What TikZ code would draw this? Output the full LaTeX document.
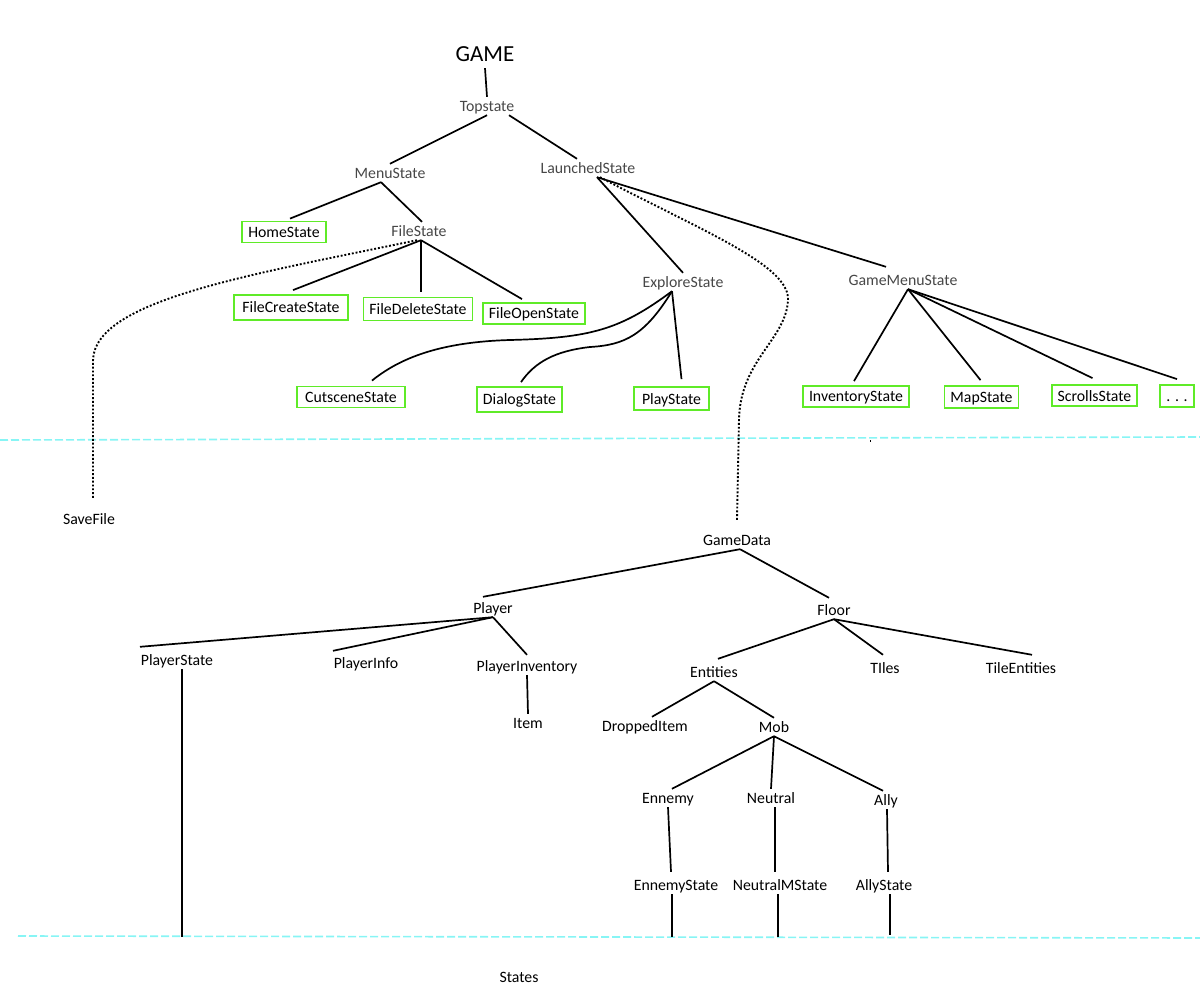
\documentclass[tikz,border=0pt]{standalone}
\usepackage{fontspec}
\setmainfont{Carlito}
\definecolor{boxgreen}{RGB}{95,235,40}
\definecolor{sepcyan}{RGB}{135,245,245}
\begin{document}
\begin{tikzpicture}[x=1pt,y=-1pt,
    lbl/.style={font=\fontsize{15.8}{18}\selectfont, text height=13pt, text depth=2pt, inner sep=1.5pt},
    lite/.style={lbl, text=black!72},
    statebox/.style={lbl, draw=boxgreen, line width=1.8pt, inner xsep=6pt, inner ysep=2.5pt, minimum height=21pt},
    edgeline/.style={line width=1.7pt},
    dotline/.style={line width=1.9pt, dash pattern=on 1.9pt off 1.9pt},
    sepline/.style={sepcyan, line width=1.6pt, dash pattern=on 8pt off 3pt}]
    \useasboundingbox (0,0) rectangle (1200,1000);

    % separators
    \draw[sepline] (0,440)--(1200,437);
    \draw[sepline] (18,936)--(1200,938);
    \fill (869.5,440) rectangle (871,442);

    % states part
    \node[lbl, font=\fontsize{23}{26}\selectfont, text height=15pt, text depth=0pt] (game) at (485,54) {GAME};
    \node[lite] (top) at (487,106) {Topstate};
    \node[lite] (menu) at (390,173) {MenuState};
    \node[lite] (launched) at (588,168) {LaunchedState};
    \node[statebox, minimum width=82pt] (home) at (284,232) {HomeState};
    \node[lite] (file) at (419,231) {FileState};
    \node[statebox, minimum width=114pt, minimum height=25pt] (fcreate) at (291,307.5) {FileCreateState};
    \node[statebox, minimum width=106pt, minimum height=23pt] (fdelete) at (418,309) {FileDeleteState};
    \node[statebox, minimum width=95pt] (fopen) at (534,313.5) {FileOpenState};
    \node[lite] (explore) at (683,282) {ExploreState};
    \node[lite] (gmenu) at (903,280) {GameMenuState};
    \node[statebox, minimum width=108pt] (cut) at (351,397) {CutsceneState};
    \node[statebox, minimum width=85pt, minimum height=25pt] (dialog) at (519.5,399.5) {DialogState};
    \node[statebox, minimum width=75pt, minimum height=23pt] (play) at (671.5,398.5) {PlayState};
    \node[statebox, minimum width=104pt] (inv) at (856,396.5) {InventoryState};
    \node[statebox, minimum width=69pt, minimum height=22pt] (map) at (981.5,397) {MapState};
    \node[statebox, minimum width=83pt] (scrolls) at (1094.5,395.5) {ScrollsState};
    \node[statebox, minimum width=32pt, minimum height=22pt] (more) at (1177,396) {. . .};

    \draw[edgeline] ([yshift=-5pt]game.south)--(top.north);
    \draw[edgeline] (top.south)--(menu.north);
    \draw[edgeline] ([xshift=22pt]top.south)--([xshift=-11pt]launched.north);
    \draw[edgeline] ([xshift=-9pt]menu.south)--([xshift=6pt,yshift=2pt]home.north);
    \draw[edgeline] ([xshift=-9pt]menu.south)--([xshift=3pt]file.north);
    \draw[edgeline] ([xshift=2pt]file.south)--([xshift=2pt,yshift=4pt]fcreate.north);
    \draw[edgeline] ([xshift=2pt]file.south)--([xshift=3pt,yshift=5pt]fdelete.north);
    \draw[edgeline] ([xshift=2pt]file.south)--([xshift=-12pt,yshift=3pt]fopen.north);
    \draw[edgeline] ([xshift=9pt]launched.south)--(explore.north);
    \draw[edgeline] ([xshift=9pt]launched.south)--([xshift=-17pt,yshift=4pt]gmenu.north);
    \draw[edgeline] ([xshift=-11pt]explore.south) .. controls (620,330) and (590,338) .. (510,340)
        .. controls (440,342) and (400,358) .. ([xshift=21pt,yshift=5pt]cut.north);
    \draw[edgeline] ([xshift=-11pt]explore.south) .. controls (645,335) and (625,345) .. (590,347)
        .. controls (555,351) and (535,362) .. ([xshift=1.5pt,yshift=4pt]dialog.north);
    \draw[edgeline] ([xshift=-11pt]explore.south)--([xshift=10pt,yshift=7pt]play.north);
    \draw[edgeline] ([xshift=5pt]gmenu.south)--([xshift=-2pt,yshift=4pt]inv.north);
    \draw[edgeline] ([xshift=5pt]gmenu.south)--([xshift=-1pt,yshift=5pt]map.north);
    \draw[edgeline] ([xshift=5pt]gmenu.south)--([xshift=-2pt,yshift=6pt]scrolls.north);
    \draw[edgeline] ([xshift=5pt]gmenu.south)--([yshift=5pt]more.north);

    % data part
    \node[lbl] (savefile) at (89,519) {SaveFile};
    \node[lbl] (gamedata) at (737,540) {GameData};
    \node[lbl] (player) at (493,608) {Player};
    \node[lbl] (floor) at (834,610) {Floor};
    \node[lbl] (pstate) at (177,660) {PlayerState};
    \node[lbl] (pinfo) at (366,663) {PlayerInfo};
    \node[lbl] (pinv) at (527,666) {PlayerInventory};
    \node[lbl] (item) at (528,723) {Item};
    \node[lbl] (ent) at (714,672) {Entities};
    \node[lbl] (tiles) at (885,668) {TIles};
    \node[lbl] (tent) at (1021,668) {TileEntities};
    \node[lbl] (drop) at (645,726) {DroppedItem};
    \node[lbl] (mob) at (774,727) {Mob};
    \node[lbl] (enn) at (668,798) {Ennemy};
    \node[lbl] (neu) at (771,798) {Neutral};
    \node[lbl] (ally) at (886,800) {Ally};
    \node[lbl] (ennst) at (676,885) {EnnemyState};
    \node[lbl] (neust) at (780,885) {NeutralMState};
    \node[lbl] (allyst) at (884,885) {AllyState};
    \node[lbl] (states) at (519,977) {States};
    \coordinate (pstateEnd) at (182,937);
    \coordinate (ennEnd) at (672,937);
    \coordinate (neuEnd) at (778,937);
    \coordinate (allyEnd) at (890,935);

    \draw[dotline] ([xshift=-2pt]file.south) .. controls (250,275) and (95,300) .. (93,360)
        --([xshift=4pt,yshift=11pt]savefile.north);
    \draw[dotline] ([xshift=12pt]launched.south) .. controls (700,230) and (790,265) .. (788,300)
        .. controls (786,340) and (740,360) .. (739,420)--([yshift=11pt]gamedata.north);
    \draw[edgeline] ([xshift=3pt]gamedata.south)--([xshift=-10pt,yshift=2pt]player.north);
    \draw[edgeline] ([xshift=3pt]gamedata.south)--([xshift=-5pt,yshift=3pt]floor.north);
    \draw[edgeline] (player.south)--([xshift=-37pt,yshift=4pt]pstate.north);
    \draw[edgeline] (player.south)--([xshift=-33pt,yshift=3pt]pinfo.north);
    \draw[edgeline] (player.south)--([yshift=2pt]pinv.north);
    \draw[edgeline] (pinv.south)--(item.north);
    \draw[edgeline] ([xshift=5pt]pstate.south)--(pstateEnd);
    \draw[edgeline] (floor.south)--([xshift=4pt,yshift=4pt]ent.north);
    \draw[edgeline] (floor.south)--([xshift=-2pt,yshift=4pt]tiles.north);
    \draw[edgeline] (floor.south)--([xshift=11pt,yshift=4pt]tent.north);
    \draw[edgeline] (ent.south)--([xshift=7pt]drop.north);
    \draw[edgeline] (ent.south)--(mob.north);
    \draw[edgeline] (mob.south)--([xshift=4pt]enn.north);
    \draw[edgeline] (mob.south)--(neu.north);
    \draw[edgeline] (mob.south)--([xshift=-3pt]ally.north);
    \draw[edgeline] (enn.south)--([xshift=-5pt,yshift=4pt]ennst.north);
    \draw[edgeline] ([xshift=4pt]neu.south)--([xshift=-5pt,yshift=4pt]neust.north);
    \draw[edgeline] ([xshift=1pt]ally.south)--([xshift=4pt,yshift=4pt]allyst.north);
    \draw[edgeline] ([xshift=-4pt]ennst.south)--(ennEnd);
    \draw[edgeline] ([xshift=-2pt]neust.south)--(neuEnd);
    \draw[edgeline] ([xshift=6pt]allyst.south)--(allyEnd);
\end{tikzpicture}
\end{document}
